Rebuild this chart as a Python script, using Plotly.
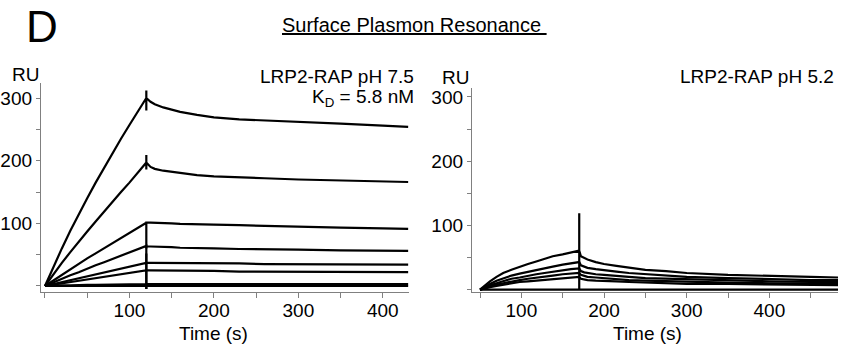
import plotly.graph_objects as go

OFF = 0
W, H = 861, 361

# ---------------- data ----------------
# Left panel: LRP2-RAP pH 7.5
T_ASSOC_L = [0, 10, 20, 30, 40, 50, 60, 70, 80, 90, 100, 110, 120]
T_DISS_L = [120, 125, 130, 140, 150, 160, 180, 200, 230, 260, 300, 350, 400, 430]
ASSOC_L = [
    [0, 31, 60, 88, 115, 140, 165, 189, 212, 235, 257, 279, 300],
    [0, 19, 37, 54, 71, 87, 103, 119, 134, 150, 165, 181, 197],
    [0, 9, 18, 27, 35, 44, 52, 60, 68, 77, 85, 93, 101],
    [0, 6, 11, 17, 22, 28, 33, 38, 43, 48, 53, 58, 63],
    [0, 3, 7, 10, 13, 16, 19, 22, 25, 28, 31, 34, 37],
    [0, 2, 4, 6, 8, 11, 13, 15, 17, 19, 21, 23, 25],
    [0, 1, 1, 1, 2, 2, 2, 2, 3, 3, 3, 3, 3],
    [0, 0, 0, 0, 0, 0, 0, 0, 0, 0, 0, 0, 0],
]
DISS_L = [
    [300, 294, 290, 285, 281, 278, 273, 269, 266, 264, 262, 259, 256, 254],
    [197, 190, 187, 184, 182, 180, 177, 175, 173, 172, 170, 168, 167, 166],
    [101, 101, 101, 100, 100, 99, 99, 98, 97, 96, 94, 93, 92, 91],
    [63, 63, 63, 62, 62, 61, 61, 60, 59, 59, 58, 57, 57, 56],
    [37, 37, 37, 37, 36, 36, 36, 36, 36, 35, 35, 35, 35, 34],
    [25, 25, 25, 25, 24, 24, 24, 24, 23, 23, 23, 23, 22, 22],
    [3, 3, 3, 3, 3, 3, 3, 3, 3, 3, 3, 3, 3, 3],
    [0, 0, 0, 0, 0, 0, 0, 0, 0, 0, 0, 0, 0, 0],
]
SPIKE_HI_L = [312, 209, 101, 64, 52, 40, 10, 0]
SPIKE_LO_L = [280, 186, 60, 40, 10, -5, -5, 0]

# Right panel: LRP2-RAP pH 5.2
T_ASSOC_R = [50, 55, 62, 70, 78, 88, 98, 108, 118, 128, 138, 150, 160, 170]
T_DISS_R = [170, 172, 176, 180, 190, 200, 215, 230, 250, 275, 300, 350, 400, 450, 483]
ASSOC_R = [
    [0, 6, 13, 20, 26, 31, 36, 40, 44, 48, 52, 55, 58, 61],
    [0, 4, 9, 14, 18, 22, 25, 28, 31, 34, 36, 39, 41, 43],
    [0, 3, 7, 10, 13, 17, 19, 22, 24, 26, 28, 30, 32, 33],
    [0, 2, 5, 8, 10, 13, 15, 17, 19, 21, 22, 24, 25, 26],
    [0, 2, 4, 6, 8, 10, 12, 13, 14, 16, 17, 18, 19, 20],
    [0, 0, 0, 0, 0, 0, 0, 0, 0, 0, 0, 0, 0, 0],
]
DISS_R = [
    [61, 52, 49, 47, 43, 40, 37, 34, 31, 29, 26, 23, 21, 20, 19],
    [43, 38, 36, 34, 32, 30, 28, 26, 24, 22, 20, 18, 16, 15, 15],
    [33, 29, 27, 26, 24, 23, 21, 20, 18, 17, 16, 14, 13, 12, 12],
    [26, 23, 21, 20, 19, 18, 16, 15, 14, 13, 12, 11, 10, 9, 9],
    [20, 17, 16, 15, 14, 14, 13, 12, 11, 10, 9, 9, 8, 7, 7],
    [0, 0, 0, 0, 0, 0, 0, 0, 0, 0, 0, 0, 0, 0, 0],
]
SPIKE_HI_R = [119, 43, 33, 26, 20, 2]
SPIKE_LO_R = [0, 43, 33, 26, 20, -1]

X_TICKS = [100, 200, 300, 400]
Y_TICKS = [100, 200, 300]

FONT = "Arial, Liberation Sans, sans-serif"


def px(x):
    return (x - OFF) / W


def py(y):
    return 1 - (y - OFF) / H


fig = go.Figure()


def add_curves(t_a, assoc, t_d, diss, hi, lo, xa, ya):
    for a, d, h, l in zip(assoc, diss, hi, lo):
        t_end = t_a[-1]
        xs = list(t_a) + [t_end, t_end] + list(t_d)
        ys = list(a) + [h, l] + list(d)
        fig.add_trace(go.Scatter(x=xs, y=ys, mode="lines", xaxis=xa, yaxis=ya,
                                 line=dict(color="black", width=2.2),
                                 showlegend=False, hoverinfo="skip"))


add_curves(T_ASSOC_L, ASSOC_L, T_DISS_L, DISS_L, SPIKE_HI_L, SPIKE_LO_L, "x", "y")
add_curves(T_ASSOC_R, ASSOC_R, T_DISS_R, DISS_R, SPIKE_HI_R, SPIKE_LO_R, "x2", "y2")

axis_common = dict(showline=True, linecolor="#808080", linewidth=1.3,
                   ticks="outside", tickcolor="#808080", tickwidth=1,
                   showgrid=False, zeroline=False,
                   tickfont=dict(family=FONT, size=19, color="black"),
                   automargin=False)

xminor = dict(dtick=50, tick0=0, ticklen=5, tickcolor="#808080", ticks="outside")
yminor = dict(dtick=50, tick0=0, ticklen=4, tickcolor="#808080", ticks="outside")

fig.update_layout(
    width=W, height=H,
    margin=dict(l=0, r=0, t=0, b=0),
    paper_bgcolor="white", plot_bgcolor="white",
    font=dict(family=FONT, color="black"),
    xaxis=dict(domain=[px(41), px(409)], range=[-4.7, 431], anchor="y",
               tickvals=X_TICKS, ticklen=5, minor=xminor, ticklabelstandoff=-4,
               **axis_common),
    yaxis=dict(domain=[py(292), py(83)], range=[-9.6, 324], anchor="x",
               tickvals=Y_TICKS, ticklen=4, minor=yminor, **axis_common),
    xaxis2=dict(domain=[px(472), px(838)], range=[40.3, 483], anchor="y2",
                tickvals=X_TICKS, ticklen=5, minor=xminor, ticklabelstandoff=-4,
                **axis_common),
    yaxis2=dict(domain=[py(292), py(88)], range=[-3.6, 314], anchor="x2",
                tickvals=Y_TICKS, ticklen=4, minor=yminor, **axis_common),
)


def ann(text, x, y, size, xanchor="center", yanchor="middle"):
    fig.add_annotation(text=text, x=px(x), y=py(y), xref="paper", yref="paper",
                       showarrow=False, xanchor=xanchor, yanchor=yanchor,
                       font=dict(family=FONT, size=size, color="black"))


ann("D", 42, 27, 44)
ann("<u>Surface Plasmon Resonance&nbsp;</u>", 414, 25, 20)
ann("RU", 25, 74, 19)
ann("RU", 455, 78, 19)
ann("LRP2-RAP pH 7.5", 416, 77, 19, xanchor="right")
ann("K<sub>D</sub> = 5.8 nM", 416, 98, 19, xanchor="right")
ann("LRP2-RAP pH 5.2", 836, 77, 19, xanchor="right")
ann("Time (s)", 213, 333, 19)
ann("Time (s)", 647, 333, 19)

fig.write_html("out.html", config={"displayModeBar": False},
               post_script="document.body.style.margin='0px';document.body.style.overflow='hidden';")
